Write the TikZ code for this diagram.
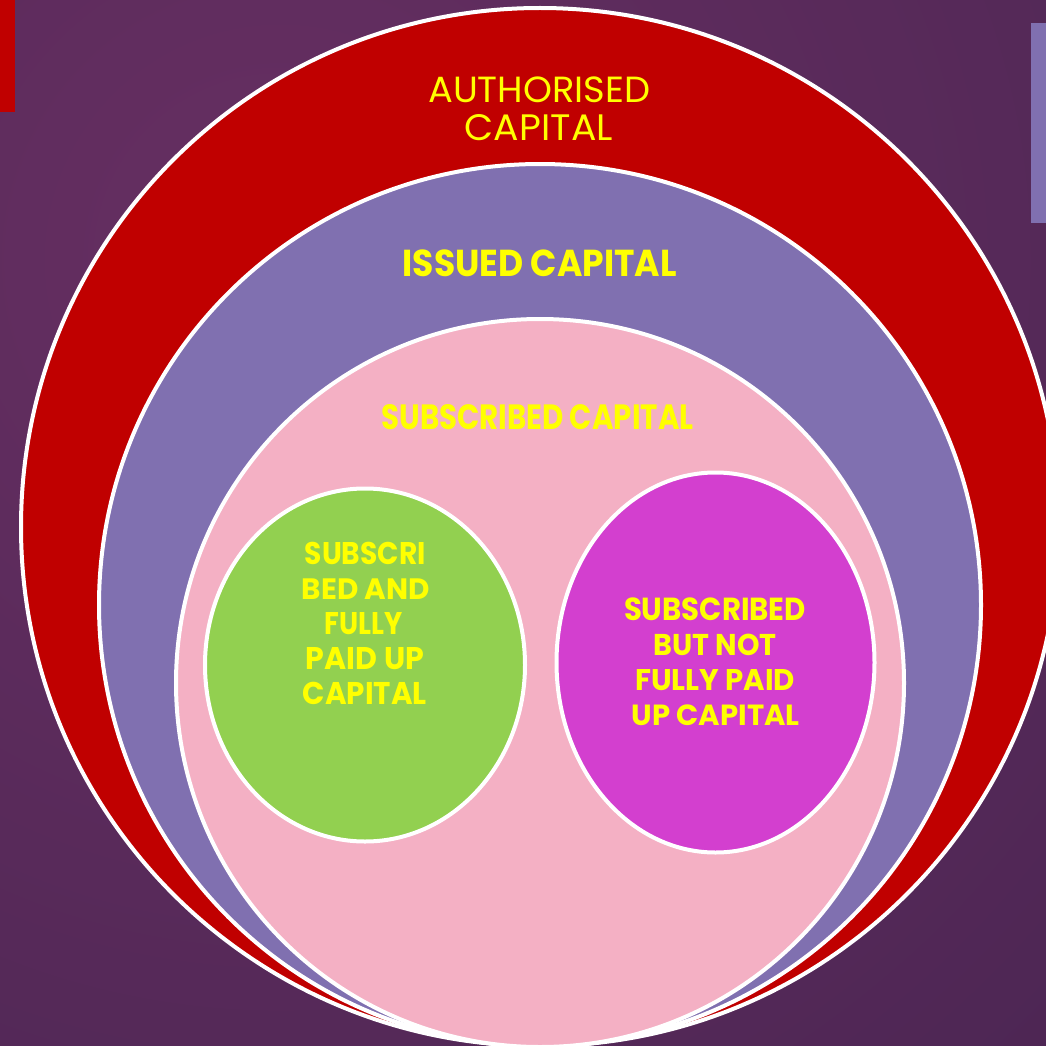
\documentclass[tikz,border=0pt]{standalone}
\usepackage{fontspec}
\setmainfont{Poppins}
\usepackage{graphicx}
\definecolor{bgdark}{HTML}{44234F}
\definecolor{bglight}{HTML}{672F62}
\definecolor{capred}{HTML}{C00000}
\definecolor{cappurple}{HTML}{8070B0}
\definecolor{cappink}{HTML}{F4B0C4}
\definecolor{capgreen}{HTML}{92D050}
\definecolor{capmagenta}{HTML}{D33FCF}
\definecolor{capyellow}{HTML}{FFFF00}
\newcommand{\fitline}[3]{\resizebox{#1pt}{#2pt}{#3}}
\begin{document}
\begin{tikzpicture}[x=1pt,y=-1pt,
  ring/.style={draw=white,line width=4pt},
  lbl/.style={inner sep=0pt,outer sep=0pt,text=capyellow,anchor=center},
  lblb/.style={lbl,font=\bfseries}]
\useasboundingbox (0,0) rectangle (1046,1046);
\clip (0,0) rectangle (1046,1046);
\fill[bgdark] (0,0) rectangle (1046,1046);
\shade[inner color=bglight,outer color=bgdark] (280,260) circle (1500);
% corner bars
\fill[capred] (0,0) rectangle (15,112);
\fill[cappurple] (1031,23) rectangle (1046,223);
% rings
\path[ring,fill=capred] (540,527) circle (519) coordinate (auth);
\path[ring,fill=cappurple] (540,605) circle (441) coordinate (iss);
\path[ring,fill=cappink] (540,683) circle (364) coordinate (sub);
\path[ring,fill=capgreen] (365,665) ellipse [x radius=160, y radius=176.5];
\path[ring,fill=capmagenta] (715.5,662.5) ellipse [x radius=159, y radius=190];
% labels
\node[lbl] (a1) at (539.2,89.5) {\fitline{222}{25.7}{AUTHORISED}};
\node[lbl] (a2) at (538.8,128) {\fitline{148}{26}{CAPITAL}};
\node[lblb] (i1) at (539.7,263.3) {\fitline{274}{26.7}{\bfseries ISSUED CAPITAL}};
\node[lblb] (s1) at (537.5,417.5) {\fitline{312}{25}{\bfseries SUBSCRIBED CAPITAL}};
\node[lblb] (g1) at (365.3,553.8) {\fitline{121}{22.3}{\bfseries SUBSCRI}};
\node[lblb] (g2) at (365.8,589.6) {\fitline{128}{20.7}{\bfseries BED AND}};
\node[lblb] (g3) at (364,624) {\fitline{78}{22}{\bfseries FULLY}};
\node[lblb] (g4) at (365,659) {\fitline{118}{22}{\bfseries PAID UP}};
\node[lblb] (g5) at (364.7,693.8) {\fitline{124}{22.3}{\bfseries CAPITAL}};
\node[lblb] (m1) at (715,609.5) {\fitline{182}{22.7}{\bfseries SUBSCRIBED}};
\node[lblb] (m2) at (715,645) {\fitline{123}{21.4}{\bfseries BUT NOT}};
\node[lblb] (m3) at (715,680.5) {\fitline{160}{21}{\bfseries FULLY PAID}};
\node[lblb] (m4) at (715.8,715.5) {\fitline{168}{20.7}{\bfseries UP CAPITAL}};
\end{tikzpicture}
\end{document}
